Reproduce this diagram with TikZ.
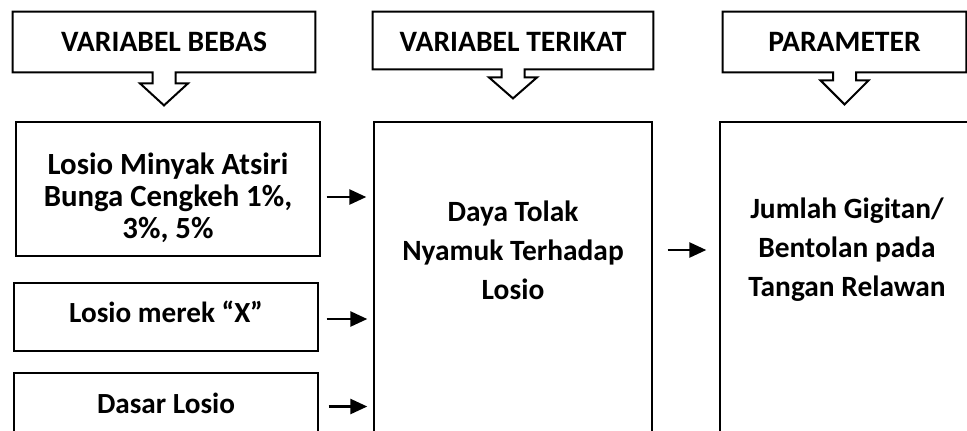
\documentclass[tikz,border=0pt]{standalone}
\usepackage{fontspec}
\setmainfont{Carlito}
\usetikzlibrary{arrows.meta}

\begin{document}
\begin{tikzpicture}[x=0.5pt,y=-0.5pt,
  head/.style={minimum height=30pt,inner sep=0pt,font=\bfseries\fontsize{14.8}{17}\selectfont},
  box/.style={draw,line width=0.7pt,inner sep=0pt},
  txt/.style={align=center,inner sep=0pt,font=\bfseries\fontsize{14.6}{16}\selectfont},
  bigtxt/.style={align=center,inner sep=0pt,font=\bfseries\fontsize{14.7}{19.5}\selectfont},
  arr/.style={-{Triangle[length=8.5pt,width=7.5pt]},line width=1.3pt}]
            \useasboundingbox (0,0) rectangle (967,430);
            \clip (0,0) rectangle (967,430);
            \node[head,minimum width=151pt] (bebas) at (164,42) {VARIABEL BEBAS};
            \node[head,minimum width=140pt] (terikat) at (513,42) {VARIABEL TERIKAT};
            \node[head,minimum width=121.5pt] (parameter) at (844.5,42) {PARAMETER};
            \foreach \h/\b/\s/\t in {bebas/0/11/22,terikat/1.5/8/21,parameter/0/8/24}
                \draw[line width=1pt] ([xshift=-5.75pt,yshift=\b pt]\h.south) -- ([yshift=\b pt]\h.south west) -- (\h.north west) -- (\h.north east)
                    -- ([yshift=\b pt]\h.south east) -- ([xshift=5.75pt,yshift=\b pt]\h.south) -- ++(0,\s) -- ++(12.5,0) -- ++(-24,\t) -- ++(-24,-\t) -- ++(12.5,0) -- cycle;
            \node[box,minimum width=152pt,minimum height=67pt] (atsiri) at (168,189) {};
            \node[box,minimum width=152pt,minimum height=34pt] (merek) at (166,317) {};
            \node[box,minimum width=152pt,minimum height=33.5pt] (dasar) at (166,406.5) {};
            \node[box,minimum width=139pt,minimum height=161.5pt] (tolak) at (513,283.5) {};
            \node[box,minimum width=127.5pt,minimum height=161.5pt] (jumlah) at (847.5,283.5) {};
            \node[txt,font=\bfseries\fontsize{15.4}{16}\selectfont] (atsiritext) at (168,198) {Losio Minyak Atsiri\\Bunga Cengkeh 1\%,\\3\%, 5\%};
            \node[txt] (merektext) at (166,312) {Losio merek ``X''};
            \node[txt] (dasartext) at (166,403) {Dasar Losio};
            \node[bigtxt] (tolaktext) at (513,250) {Daya Tolak\\Nyamuk Terhadap\\Losio};
            \node[bigtxt] (jumlahtext) at (847,250) {Jumlah Gigitan/\\Bentolan pada\\Tangan Relawan};
            \draw[arr,shorten <=3pt,shorten >=3.5pt] ([yshift=-4pt]atsiri.east) -- ([yshift=-4pt]atsiri.east -| tolak.west);
            \draw[arr,shorten <=4pt,shorten >=3pt] ([yshift=-1pt]merek.east) -- ([yshift=-1pt]merek.east -| tolak.west);
            \draw[arr,shorten <=5pt,shorten >=3pt] (dasar.east) -- (dasar.east -| tolak.west);
            \draw[arr,shorten <=7.5pt,shorten >=6.5pt] (tolaktext -| tolak.east) -- (tolaktext -| jumlah.west);
        \end{tikzpicture}
\end{document}
